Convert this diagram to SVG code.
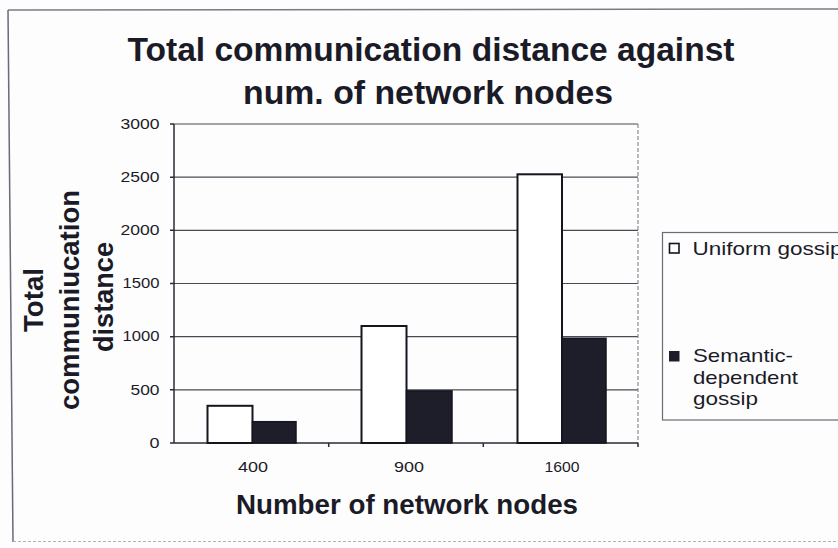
<svg xmlns="http://www.w3.org/2000/svg" width="838" height="548" viewBox="0 0 838 548">
  <style>
    .txt { font-family: "Liberation Sans", Arial, sans-serif; fill: #1b1b28; }
    .title { font-size: 33px; font-weight: bold; text-anchor: middle; }
    .axt { font-size: 27px; font-weight: bold; text-anchor: middle; }
    .tick { font-size: 15px; }
    .leg { font-size: 19px; }
    .grid { stroke: #4a4a55; stroke-width: 1.2; fill: none; }
    .axis { stroke: #2a2a35; stroke-width: 1.5; fill: none; }
    .barW { fill: #ffffff; stroke: #15151f; stroke-width: 2; }
    .barB { fill: #1e1e2a; stroke: #15151f; stroke-width: 1.5; }
  </style>

  <!-- page background and frame -->
  <rect x="0" y="0" width="838" height="548" fill="#fdfdfd"/>
  <path d="M8,10 L838,9" stroke="#7a7a85" stroke-width="1.5" fill="none"/>
  <path d="M8,10 L13,542" stroke="#6a6a78" stroke-width="1.5" fill="none"/>
  <path d="M13,541.5 L838,541.5" stroke="#b0b0b8" stroke-width="1" stroke-dasharray="3,2" fill="none"/>

  <!-- chart title -->
  <g id="title">
    <text class="txt title" x="431" y="61" textLength="607" lengthAdjust="spacingAndGlyphs">Total communication distance against</text>
    <text class="txt title" x="428" y="104" textLength="370" lengthAdjust="spacingAndGlyphs">num. of network nodes</text>
  </g>

  <!-- value axis title -->
  <g id="y-title" transform="translate(0,300) rotate(-90)">
    <text class="txt axt" x="0" y="43" textLength="64" lengthAdjust="spacingAndGlyphs">Total</text>
    <text class="txt axt" x="0" y="79" textLength="220" lengthAdjust="spacingAndGlyphs">communiucation</text>
    <text class="txt axt" x="3" y="113" textLength="110" lengthAdjust="spacingAndGlyphs">distance</text>
  </g>

  <!-- gridlines and plot frame -->
  <g id="grid">
    <line class="grid" x1="174" y1="124" x2="638" y2="124"/>
    <line class="grid" x1="174" y1="177.2" x2="638" y2="177.2"/>
    <line class="grid" x1="174" y1="230.3" x2="638" y2="230.3"/>
    <line class="grid" x1="174" y1="283.5" x2="638" y2="283.5"/>
    <line class="grid" x1="174" y1="336.7" x2="638" y2="336.7"/>
    <line class="grid" x1="174" y1="389.8" x2="638" y2="389.8"/>
    <line x1="638" y1="124" x2="638" y2="443" stroke="#8a8a95" stroke-width="1.2" stroke-dasharray="4,2"/>
  </g>

  <!-- axes with tick marks -->
  <g id="axes">
    <line class="axis" x1="174" y1="124" x2="174" y2="443"/>
    <line class="axis" x1="170" y1="443" x2="638" y2="443"/>
    <path class="axis" d="M170,124 H174 M170,177.2 H174 M170,230.3 H174 M170,283.5 H174 M170,336.7 H174 M170,389.8 H174"/>
    <path class="axis" d="M328.7,443 V447 M483.3,443 V447 M638,443 V447"/>
  </g>

  <!-- value tick labels -->
  <g id="y-ticks" text-anchor="end">
    <text class="txt tick" x="159.5" y="129" textLength="39" lengthAdjust="spacingAndGlyphs">3000</text>
    <text class="txt tick" x="159.5" y="182" textLength="39" lengthAdjust="spacingAndGlyphs">2500</text>
    <text class="txt tick" x="159.5" y="235" textLength="39" lengthAdjust="spacingAndGlyphs">2000</text>
    <text class="txt tick" x="159.5" y="288" textLength="37" lengthAdjust="spacingAndGlyphs">1500</text>
    <text class="txt tick" x="159.5" y="341" textLength="37" lengthAdjust="spacingAndGlyphs">1000</text>
    <text class="txt tick" x="159.5" y="395" textLength="29" lengthAdjust="spacingAndGlyphs">500</text>
    <text class="txt tick" x="159.5" y="448" textLength="10" lengthAdjust="spacingAndGlyphs">0</text>
  </g>

  <!-- bars: uniform gossip (white) and semantic-dependent gossip (dark) -->
  <g id="group-400">
    <rect class="barW" x="207.5" y="405.8" width="45" height="37.2"/>
    <rect class="barB" x="252.5" y="421.7" width="43.5" height="21.3"/>
  </g>
  <g id="group-900">
    <rect class="barW" x="361.5" y="326" width="45" height="117"/>
    <rect class="barB" x="406.5" y="390.9" width="45.5" height="52.1"/>
  </g>
  <g id="group-1600">
    <rect class="barW" x="517.5" y="174.3" width="44.5" height="268.7"/>
    <rect class="barB" x="562" y="338.3" width="44" height="104.7"/>
  </g>

  <!-- category labels -->
  <g id="x-ticks" text-anchor="middle">
    <text class="txt tick" x="253" y="472" textLength="30" lengthAdjust="spacingAndGlyphs">400</text>
    <text class="txt tick" x="409" y="472" textLength="30" lengthAdjust="spacingAndGlyphs">900</text>
    <text class="txt tick" x="562" y="472" textLength="35" lengthAdjust="spacingAndGlyphs">1600</text>
  </g>

  <!-- category axis title -->
  <g id="x-title">
    <text class="txt axt" x="407" y="514" font-size="28" textLength="342" lengthAdjust="spacingAndGlyphs">Number of network nodes</text>
  </g>

  <!-- legend -->
  <g id="legend">
    <rect x="662.5" y="232.5" width="190" height="187.5" fill="#fdfdfd" stroke="#6a6a78" stroke-width="1.2"/>
    <rect x="669.5" y="243.5" width="9.5" height="9.5" fill="#ffffff" stroke="#15151f" stroke-width="1.6"/>
    <text class="txt leg" x="692.5" y="255" textLength="150" lengthAdjust="spacingAndGlyphs">Uniform gossip</text>
    <rect x="669" y="351" width="10.5" height="10.5" fill="#1e1e2a"/>
    <text class="txt leg" x="693" y="361.5" textLength="100" lengthAdjust="spacingAndGlyphs">Semantic-</text>
    <text class="txt leg" x="693" y="384" textLength="105" lengthAdjust="spacingAndGlyphs">dependent</text>
    <text class="txt leg" x="693" y="405" textLength="65" lengthAdjust="spacingAndGlyphs">gossip</text>
  </g>
</svg>
